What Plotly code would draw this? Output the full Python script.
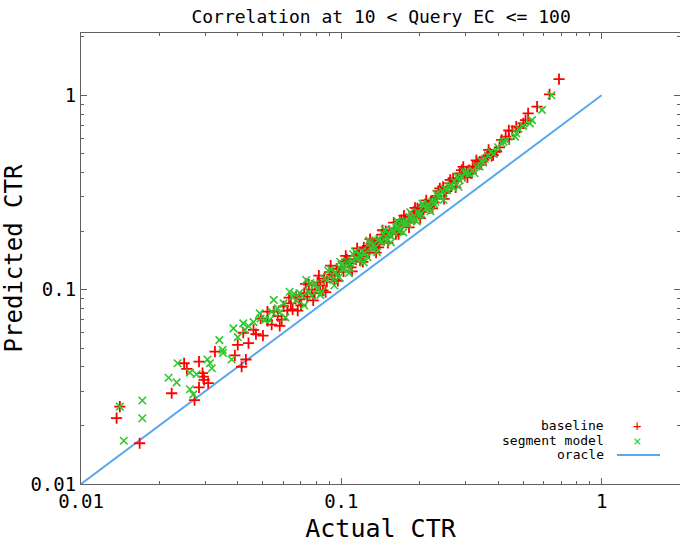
import math
import plotly.graph_objects as go

# ---------------- data ----------------
base_actual = [
    0.0137, 0.0141, 0.0168, 0.0223, 0.0249, 0.0255, 0.0273, 0.0284, 0.0284, 0.0293,
    0.0295, 0.0297, 0.0308, 0.0327, 0.0390, 0.0414, 0.0430,
    0.040, 0.042, 0.044, 0.046, 0.047, 0.049, 0.050, 0.052, 0.054, 0.055,
    0.057, 0.059, 0.060, 0.062, 0.064, 0.065, 0.067, 0.069, 0.070, 0.072,
    0.074, 0.075, 0.077, 0.079, 0.081, 0.083, 0.085, 0.086, 0.088, 0.090,
    0.092, 0.094, 0.096, 0.098, 0.100, 0.102, 0.105, 0.107, 0.109, 0.112,
    0.114, 0.117, 0.120, 0.122, 0.125, 0.128, 0.131, 0.134, 0.137, 0.140,
    0.143, 0.146, 0.150, 0.153, 0.157, 0.160, 0.164, 0.168, 0.172, 0.176,
    0.180, 0.185, 0.190, 0.194, 0.199, 0.204, 0.210, 0.215, 0.221, 0.227,
    0.233, 0.239, 0.246, 0.253, 0.261, 0.269, 0.277, 0.285, 0.294, 0.303,
    0.310, 0.316, 0.325, 0.333, 0.340, 0.352, 0.363, 0.373, 0.383, 0.395,
    0.413, 0.428, 0.441, 0.454, 0.470, 0.485, 0.500, 0.510, 0.522, 0.565,
    0.631, 0.686,
    0.103, 0.118, 0.126, 0.139, 0.148, 0.162, 0.170, 0.183, 0.196, 0.207,
    0.218, 0.230, 0.250, 0.265, 0.280, 0.298, 0.320, 0.345, 0.358, 0.378,
    0.052, 0.058, 0.063, 0.068, 0.073, 0.078, 0.082, 0.087, 0.091, 0.097,
    0.104, 0.110, 0.115, 0.121, 0.129, 0.136, 0.144, 0.151, 0.159, 0.166,
    0.174, 0.182, 0.192, 0.201, 0.212, 0.224, 0.236, 0.248, 0.262, 0.275,
    0.290, 0.305, 0.330, 0.368, 0.405, 0.440,
]
base_pred = [
    0.0218, 0.0250, 0.0162, 0.0293, 0.0418, 0.0391, 0.0270, 0.0314, 0.0426, 0.0372,
    0.0357, 0.0343, 0.0330, 0.0480, 0.0459, 0.0401, 0.0437,
    0.052, 0.060, 0.053, 0.062, 0.059, 0.071, 0.058, 0.069, 0.066, 0.077,
    0.073, 0.070, 0.082, 0.078, 0.085, 0.079, 0.092, 0.089, 0.083, 0.096,
    0.092, 0.106, 0.100, 0.096, 0.109, 0.105, 0.099, 0.114, 0.110, 0.123,
    0.119, 0.113, 0.128, 0.123, 0.131, 0.124, 0.143, 0.137, 0.130, 0.149,
    0.143, 0.152, 0.148, 0.165, 0.159, 0.155, 0.173, 0.169, 0.178, 0.171,
    0.192, 0.185, 0.186, 0.200, 0.196, 0.206, 0.200, 0.223, 0.217, 0.229,
    0.223, 0.237, 0.251, 0.243, 0.257, 0.251, 0.275, 0.271, 0.285, 0.281,
    0.303, 0.332, 0.338, 0.321, 0.352, 0.374, 0.360, 0.396, 0.428, 0.406,
    0.412, 0.396, 0.423, 0.443, 0.455, 0.465, 0.483, 0.502, 0.492, 0.513,
    0.589, 0.612, 0.595, 0.655, 0.690, 0.680, 0.716, 0.745, 0.807, 0.873,
    1.010, 1.210,
    0.140, 0.141, 0.168, 0.165, 0.200, 0.193, 0.228, 0.222, 0.262, 0.258,
    0.262, 0.298, 0.315, 0.340, 0.372, 0.385, 0.430, 0.440, 0.478, 0.488,
    0.077, 0.065, 0.091, 0.078, 0.107, 0.088, 0.118, 0.097, 0.133, 0.111,
    0.149, 0.124, 0.163, 0.139, 0.182, 0.155, 0.202, 0.174, 0.221, 0.193,
    0.240, 0.209, 0.263, 0.233, 0.288, 0.262, 0.321, 0.293, 0.367, 0.336,
    0.412, 0.378, 0.462, 0.523, 0.539, 0.660,
]

seg_actual = [
    0.0141, 0.0146, 0.0172, 0.0172, 0.0217, 0.0233, 0.0235, 0.0262, 0.0270, 0.0262,
    0.0278, 0.0306, 0.0313, 0.0318, 0.0351, 0.0379,
    0.034, 0.035, 0.0385, 0.040, 0.042, 0.0426, 0.044, 0.046, 0.0486, 0.049,
    0.051, 0.053, 0.055, 0.057, 0.058, 0.060, 0.0633, 0.065, 0.067, 0.069,
    0.071, 0.0733,
    0.075, 0.077, 0.079, 0.081, 0.084, 0.086, 0.088, 0.091, 0.093, 0.095,
    0.098, 0.100, 0.103, 0.106, 0.108, 0.111, 0.114, 0.117, 0.120, 0.123,
    0.126, 0.129, 0.132, 0.135, 0.138, 0.142, 0.145, 0.149, 0.152, 0.156,
    0.159, 0.163, 0.167, 0.171, 0.175, 0.179, 0.183, 0.188, 0.192, 0.197,
    0.202, 0.207, 0.212, 0.218, 0.224, 0.230, 0.235,
    0.245, 0.250, 0.260, 0.272, 0.280, 0.290, 0.300, 0.305, 0.320, 0.330,
    0.350, 0.356, 0.366, 0.376, 0.400, 0.413, 0.420, 0.465, 0.470, 0.500,
    0.530, 0.540, 0.590, 0.641,
    0.101, 0.110, 0.119, 0.131, 0.140, 0.154, 0.165, 0.177, 0.186, 0.199,
    0.215, 0.227, 0.240, 0.255, 0.268, 0.285, 0.310, 0.340,
    0.054, 0.061, 0.066, 0.072, 0.076, 0.083, 0.089, 0.094, 0.099, 0.107,
    0.113, 0.122, 0.128, 0.137, 0.147, 0.155, 0.164, 0.173, 0.184, 0.195,
    0.205, 0.220, 0.232, 0.247, 0.265, 0.282, 0.298, 0.325, 0.345, 0.385,
    0.430, 0.480,
]
seg_pred = [
    0.0250, 0.0167, 0.0269, 0.0218, 0.0352, 0.0333, 0.0418, 0.0307, 0.0289, 0.0374,
    0.0367, 0.0437, 0.0418, 0.0394, 0.0473, 0.0437,
    0.055, 0.049, 0.0632, 0.057, 0.067, 0.062, 0.065, 0.068, 0.0755, 0.071,
    0.070, 0.070, 0.0885, 0.080, 0.076, 0.085, 0.0975, 0.0917, 0.088, 0.096,
    0.093, 0.112,
    0.0975, 0.0924, 0.107, 0.101, 0.0974, 0.114, 0.112, 0.127, 0.113, 0.123,
    0.116, 0.134, 0.128, 0.139, 0.129, 0.152, 0.144, 0.142, 0.158, 0.154,
    0.147, 0.174, 0.169, 0.165, 0.179, 0.176, 0.193, 0.177, 0.193, 0.204,
    0.196, 0.209, 0.200, 0.222, 0.219, 0.217, 0.236, 0.233, 0.228, 0.250,
    0.246, 0.269, 0.263, 0.262, 0.284, 0.283, 0.303,
    0.320, 0.330, 0.340, 0.360, 0.380, 0.380, 0.400, 0.405, 0.410, 0.430,
    0.450, 0.470, 0.490, 0.510, 0.540, 0.566, 0.577, 0.612, 0.637, 0.695,
    0.716, 0.745, 0.840, 1.000,
    0.127, 0.140, 0.150, 0.163, 0.182, 0.190, 0.212, 0.225, 0.226, 0.241,
    0.275, 0.276, 0.310, 0.325, 0.335, 0.365, 0.395, 0.430,
    0.077, 0.072, 0.095, 0.083, 0.108, 0.094, 0.125, 0.105, 0.139, 0.122,
    0.157, 0.138, 0.179, 0.156, 0.203, 0.175, 0.225, 0.197, 0.250, 0.224,
    0.277, 0.253, 0.311, 0.289, 0.345, 0.338, 0.396, 0.397, 0.459, 0.500,
    0.585, 0.672,
]

oracle_x = [0.01, 1.0]
oracle_y = [0.01, 1.0]

major_ticks = [0.01, 0.1, 1]
major_labels = ["0.01", "0.1", "1"]
minor_ticks = [k * 10.0 ** e for e in (-2, -1, 0) for k in range(2, 10)]

legend_names = ["baseline", "segment model", "oracle"]

# ---------------- style ----------------
FONT = "DejaVu Sans Mono"
RED = "#ff0000"
GREEN = "#2ec82e"
BLUE = "#5aa7f0"
AXIS = "#606060"

fig = go.Figure()
fig.add_trace(go.Scatter(
    x=oracle_x, y=oracle_y, mode="lines", name=legend_names[2],
    line=dict(color=BLUE, width=2), showlegend=False, hoverinfo="skip"))
fig.add_trace(go.Scatter(
    x=base_actual, y=base_pred, mode="markers", name=legend_names[0],
    marker=dict(symbol="cross-thin", size=8, line=dict(color=RED, width=1.8)),
    showlegend=False))
fig.add_trace(go.Scatter(
    x=seg_actual, y=seg_pred, mode="markers", name=legend_names[1],
    marker=dict(symbol="x-thin", size=7.5, line=dict(color=GREEN, width=1.6)),
    showlegend=False))

axis_common = dict(
    type="log", showgrid=False, zeroline=False,
    showline=True, linecolor=AXIS, linewidth=1, mirror="ticks",
    ticks="inside", ticklen=6, tickcolor=AXIS, tickwidth=1,
    tickmode="array", tickvals=major_ticks, ticktext=major_labels,
    tickfont=dict(family=FONT, size=19, color="#000000"),
    minor=dict(ticks="inside", ticklen=3, tickcolor=AXIS, tickwidth=1,
               tickmode="array", tickvals=minor_ticks, showgrid=False),
)

fig.update_layout(
    width=680, height=543,
    margin=dict(l=81, r=0, t=33, b=59),
    paper_bgcolor="white", plot_bgcolor="white",
    font=dict(family=FONT, color="#000000"),
    title=dict(text="Correlation at 10 &lt; Query EC &lt;= 100", x=0.5604, xanchor="center",
               y=1 - 17 / 543, yanchor="middle", font=dict(family=FONT, size=18)),
    xaxis=dict(axis_common, range=[-2, math.log10(2)],
               title=dict(text="Actual CTR", font=dict(family=FONT, size=25), standoff=11)),
    yaxis=dict(axis_common, range=[-2, 0.32],
               title=dict(text="Predicted CTR", font=dict(family=FONT, size=24), standoff=8)),
    showlegend=False,
)

# custom gnuplot-style key (text right-aligned, sample to the right)
key_rows = [0.1293, 0.0960, 0.0645]
for name, yy in zip(legend_names, key_rows):
    fig.add_annotation(xref="paper", yref="paper", x=0.8748, y=yy, xanchor="right",
                       yanchor="middle", text=name, showarrow=False, borderpad=0,
                       font=dict(family=FONT, size=13, color="#000000"))
fig.add_annotation(xref="paper", yref="paper", x=0.928, y=key_rows[0], xanchor="center",
                   yanchor="middle", text="+", showarrow=False, borderpad=0,
                   font=dict(family=FONT, size=14, color=RED))
fig.add_annotation(xref="paper", yref="paper", x=0.928, y=key_rows[1], xanchor="center",
                   yanchor="middle", text="×", showarrow=False, borderpad=0,
                   font=dict(family=FONT, size=14, color=GREEN))
fig.add_shape(type="line", xref="paper", yref="paper", x0=0.8948, x1=0.9666,
              y0=key_rows[2], y1=key_rows[2], line=dict(color=BLUE, width=2))

fig.write_html("out.html")
